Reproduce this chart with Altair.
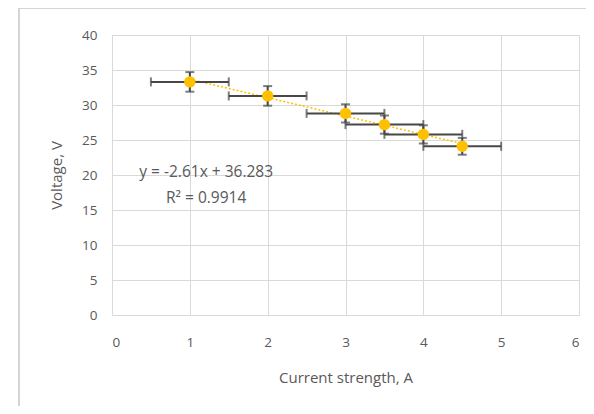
import altair as alt
import pandas as pd

current = [1.0, 2.0, 3.0, 3.5, 4.0, 4.5]
voltage = [33.3, 31.3, 28.8, 27.2, 25.8, 24.1]
current_err = [0.5, 0.5, 0.5, 0.5, 0.5, 0.5]
voltage_err = [1.4, 1.4, 1.3, 1.3, 1.3, 1.2]

eq_lines = ["y = -2.61x + 36.283", "R² = 0.9914"]
eq_x = [1.21, 1.21]
eq_y = [20.4, 16.7]

x_ticks = [0, 1, 2, 3, 4, 5, 6]
y_ticks = [0, 5, 10, 15, 20, 25, 30, 35, 40]

df = pd.DataFrame({"I": current, "U": voltage, "dI": current_err, "dU": voltage_err})
df["I_lo"] = df["I"] - df["dI"]
df["I_hi"] = df["I"] + df["dI"]
df["U_lo"] = df["U"] - df["dU"]
df["U_hi"] = df["U"] + df["dU"]

eq_df = pd.DataFrame({"t": eq_lines, "x": eq_x, "y": eq_y})

FONT = "Open Sans"
GREY = "#595959"
BAR = "#474747"
GOLD = "#FFC000"

xscale = alt.Scale(domain=[0, 6], nice=False, zero=True)
yscale = alt.Scale(domain=[0, 40], nice=False, zero=True)

xaxis = alt.Axis(values=x_ticks, format="d", title="Current strength, A",
                 grid=True, gridColor="#d9d9d9", domain=False, ticks=False, labelOverlap=False,
                 labelPadding=20, labelColor=GREY, labelFontSize=13.5, labelFont=FONT,
                 titleColor=GREY, titleFontSize=15, titleFont=FONT, titleFontWeight="normal",
                 titleBaseline="middle", titleY=62)
yaxis = alt.Axis(values=y_ticks, format="d", title="Voltage, V",
                 grid=True, gridColor="#d9d9d9", domain=False, ticks=False, labelOverlap=False,
                 labelPadding=15, labelColor=GREY, labelFontSize=13.5, labelFont=FONT,
                 titleColor=GREY, titleFontSize=15, titleFont=FONT, titleFontWeight="normal",
                 titleBaseline="middle", titleX=-56)

def X(f):
    return alt.X(f, type="quantitative", scale=xscale, axis=xaxis)

def Y(f):
    return alt.Y(f, type="quantitative", scale=yscale, axis=yaxis)

base = alt.Chart(df)

frame = base.mark_rect(fill=None, stroke="#d4d4d4", strokeWidth=1.5).encode(
    x=alt.value(-93), x2=alt.value(600), y=alt.value(-27), y2=alt.value(500)
)

trend = base.transform_regression("I", "U", extent=[1, 4.5]).mark_line(
    color=GOLD, strokeDash=[2, 2], strokeWidth=1.5
).encode(x=X("I"), y=Y("U"))

hbar = base.mark_rule(color=BAR, strokeWidth=2).encode(x=X("I_lo"), x2="I_hi:Q", y=Y("U"))
hcap_lo = base.mark_tick(color=BAR, thickness=2, size=9, orient="vertical").encode(x=X("I_lo"), y=Y("U"))
hcap_hi = base.mark_tick(color=BAR, thickness=2, size=9, orient="vertical").encode(x=X("I_hi"), y=Y("U"))
vbar = base.mark_rule(color=BAR, strokeWidth=2).encode(x=X("I"), y=Y("U_lo"), y2="U_hi:Q")
vcap_lo = base.mark_tick(color=BAR, thickness=2, size=9, orient="horizontal").encode(x=X("I"), y=Y("U_lo"))
vcap_hi = base.mark_tick(color=BAR, thickness=2, size=9, orient="horizontal").encode(x=X("I"), y=Y("U_hi"))

points = base.mark_circle(color=GOLD, opacity=1, size=130).encode(x=X("I"), y=Y("U"))

eq = alt.Chart(eq_df).mark_text(font=FONT, fontSize=15.5, color="#595959", align="center").encode(
    x=X("x"), y=Y("y"), text="t:N"
)

chart = alt.layer(trend, frame, hbar, hcap_lo, hcap_hi, vbar, vcap_lo, vcap_hi, points, eq).properties(
    width=467, height=280,
    autosize=alt.AutoSizeParams(type="none"),
    padding={"left": 104, "top": 27, "right": 7, "bottom": 91},
).configure_view(stroke="#d9d9d9", strokeWidth=1).configure(background="white")

chart.save("out.html", embed_options={"renderer": "svg", "actions": False})
